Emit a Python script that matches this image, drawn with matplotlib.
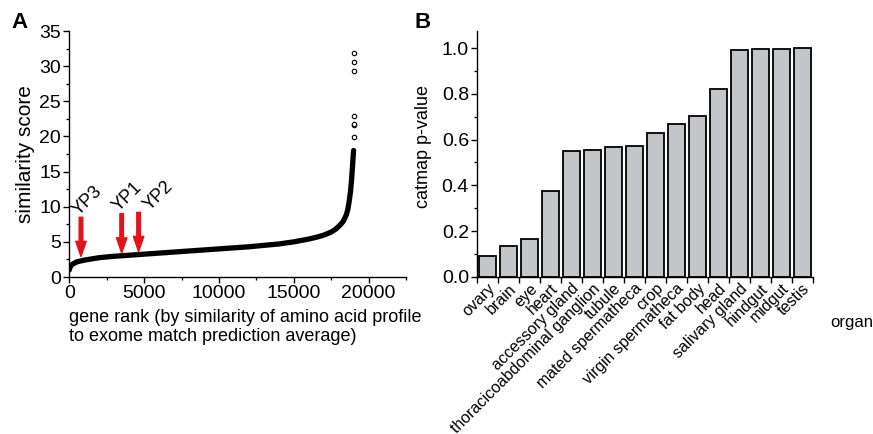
import numpy as np
import matplotlib
matplotlib.use('Agg')
import matplotlib.pyplot as plt
from matplotlib.ticker import MultipleLocator, FixedLocator

plt.rcParams['font.family'] = ['Liberation Sans', 'DejaVu Sans']

# panel A: sorted similarity score per gene rank
gene_rank = [0, 50, 200, 500, 1000, 2000, 3000, 4000, 5000, 6000, 7000,
             8000, 9000, 10000, 11000, 12000, 13000, 14000, 15000, 15500,
             16000, 16500, 17000, 17500, 17800, 18100, 18300, 18500, 18600,
             18700, 18800, 18860, 18920, 18970, 19000]
similarity = [1.0, 1.4, 1.8, 2.15, 2.4, 2.75, 2.95, 3.1, 3.25, 3.4, 3.55,
              3.7, 3.85, 4.0, 4.15, 4.3, 4.5, 4.7, 5.0, 5.2,
              5.4, 5.65, 5.95, 6.4, 6.8, 7.4, 7.9, 8.8, 9.5,
              10.7, 12.3, 13.8, 15.5, 17.2, 18.0]
outlier_rank = [19020, 19020, 19020, 19020, 19020, 19020, 19020]
outlier_score = [19.9, 21.6, 21.7, 22.9, 29.3, 30.6, 31.9]

yp_names = ['YP3', 'YP1', 'YP2']
yp_rank = [780, 3500, 4630]
yp_score = [2.4, 2.9, 3.1]

# panel B: catmap p-value per organ
organs = ['ovary', 'brain', 'eye', 'heart', 'accessory gland',
          'thoracicoabdominal ganglion', 'tubule', 'mated spermatheca', 'crop',
          'virgin spermatheca', 'fat body', 'head', 'salivary gland',
          'hindgut', 'midgut', 'testis']
pvalues = [0.09, 0.134, 0.166, 0.375, 0.552, 0.555, 0.568, 0.571, 0.629,
           0.667, 0.705, 0.822, 0.994, 0.999, 0.999, 1.0]

red = '#e3131b'
W, H = 873, 434
fig = plt.figure(figsize=(W / 100, H / 100), dpi=100)

def px_axes(l, t, r, b):
    return fig.add_axes([l / W, 1 - b / H, (r - l) / W, (b - t) / H])

def style(ax):
    for s in ['top', 'right']:
        ax.spines[s].set_visible(False)
    for s in ['left', 'bottom']:
        ax.spines[s].set_linewidth(1.0)
    ax.tick_params(which='major', direction='out', length=4, width=1.0, labelsize=14, pad=2)
    ax.tick_params(which='minor', direction='out', length=2.5, width=0.9)

# ---- A ----
axA = px_axes(69.3, 31, 406, 277)
style(axA)
axA.plot(gene_rank, similarity, color='black', lw=3.8, solid_capstyle='round')
axA.plot(outlier_rank, outlier_score, 'o', ms=3.2, mfc='white', mec='black', mew=0.8)
axA.set_xlim(0, 22500)
axA.set_ylim(0, 35)
axA.xaxis.set_major_locator(FixedLocator([0, 5000, 10000, 15000, 20000]))
axA.xaxis.set_minor_locator(MultipleLocator(2500))
axA.yaxis.set_major_locator(MultipleLocator(5))
axA.yaxis.set_minor_locator(MultipleLocator(2.5))
axA.set_ylabel('similarity score', fontsize=15, labelpad=3)

arrow_len = 5.6
text_off = {'YP3': (5, 12), 'YP1': (4, 12), 'YP2': (14, 12)}
for name, r, s in zip(yp_names, yp_rank, yp_score):
    tip = s + 0.5
    top = tip + arrow_len
    axA.annotate('', xy=(r, tip), xytext=(r, top),
                 arrowprops=dict(arrowstyle='simple,head_width=0.75,head_length=1.1,tail_width=0.26',
                                 color=red, shrinkA=0, shrinkB=0), zorder=5)
    axA.annotate(name, xy=(r, top), xytext=text_off[name], textcoords='offset points',
                 rotation=45, ha='center', va='center', fontsize=13)

fig.text(69 / W, 1 - 309 / H,
         'gene rank (by similarity of amino acid profile\nto exome match prediction average)',
         ha='left', va='top', fontsize=13, linespacing=1.15)

# ---- B ----
axB = px_axes(477.3, 30.7, 812.7, 276.7)
style(axB)
x = np.arange(len(organs))
axB.bar(x, pvalues, width=0.8, color='#c4c5c8', edgecolor='black', linewidth=1.3)
axB.set_xlim(-0.5, 15.5)
axB.set_ylim(0, 1.077)
axB.yaxis.set_major_locator(MultipleLocator(0.2))
axB.yaxis.set_minor_locator(MultipleLocator(0.1))
axB.yaxis.set_major_formatter(matplotlib.ticker.FormatStrFormatter('%.1f'))
axB.set_xticks(np.arange(-0.5, 16, 1.0))
axB.set_xticklabels([])
axB.set_xticks(x, minor=True)
axB.set_xticklabels(organs, minor=True, rotation=45, ha='right', va='top',
                    rotation_mode='anchor', fontsize=11.5)
axB.tick_params(axis='x', which='minor', length=0, pad=3)
axB.set_ylabel('catmap p-value', fontsize=13)
axB.yaxis.set_label_coords(-0.135, 0.53)

fig.text(830 / W, 1 - 322 / H, 'organ', ha='left', va='center', fontsize=12)

fig.text(20 / W, 1 - 22 / H, 'A', ha='center', va='center', fontsize=16, fontweight='bold')
fig.text(423 / W, 1 - 22 / H, 'B', ha='center', va='center', fontsize=16, fontweight='bold')

fig.savefig('out.png', dpi=100)
